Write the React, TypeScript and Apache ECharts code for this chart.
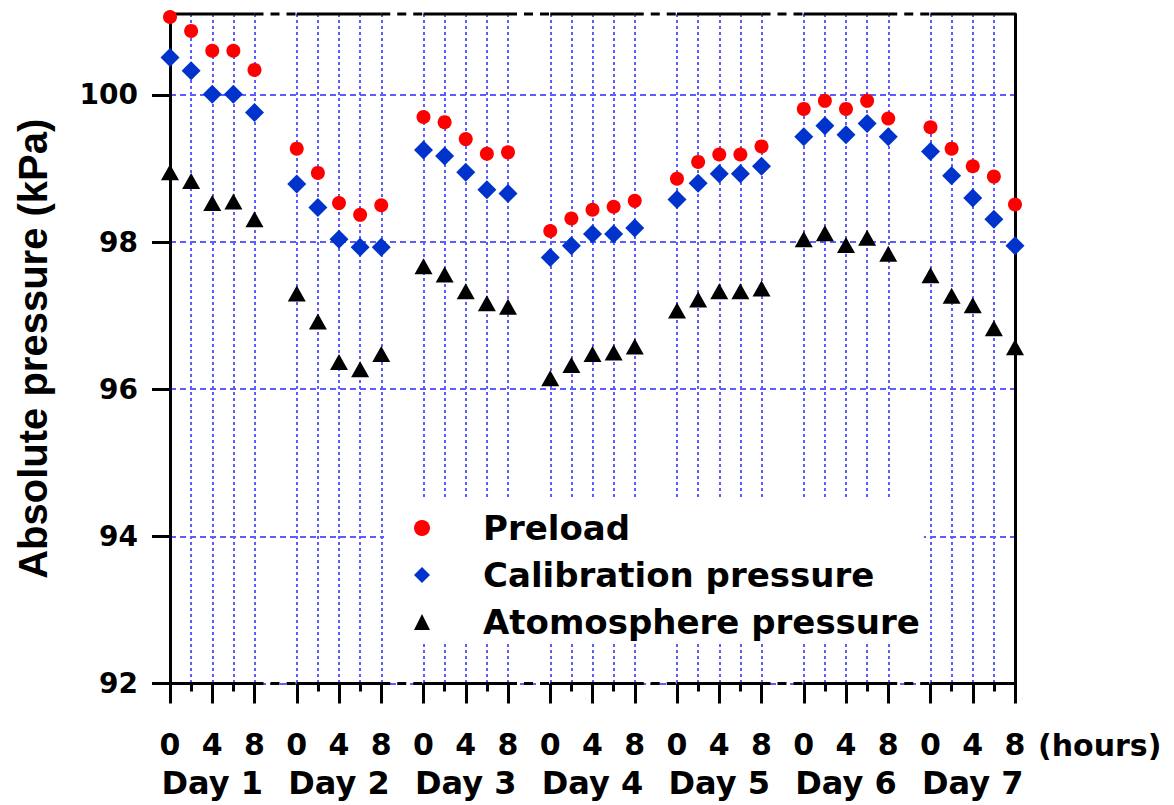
import React, { useEffect, useRef } from "react";
import * as echarts from "echarts";

// Readings are taken every 2 hours over an 8-hour session, on seven days.
const days = ["Day 1", "Day 2", "Day 3", "Day 4", "Day 5", "Day 6", "Day 7"];
const hours = [0, 2, 4, 6, 8];
const labelledHours = [0, 4, 8];
const yTicks = [92, 94, 96, 98, 100];

// kPa, one row per day, one column per reading hour
const preload = [
  [101.06, 100.87, 100.6, 100.6, 100.34],
  [99.27, 98.94, 98.53, 98.37, 98.5],
  [99.7, 99.63, 99.4, 99.2, 99.22],
  [98.15, 98.32, 98.44, 98.48, 98.56],
  [98.86, 99.09, 99.19, 99.19, 99.3],
  [99.81, 99.92, 99.81, 99.92, 99.68],
  [99.56, 99.27, 99.03, 98.89, 98.51],
];
const calibration = [
  [100.51, 100.33, 100.01, 100.01, 99.76],
  [98.79, 98.47, 98.04, 97.93, 97.93],
  [99.25, 99.17, 98.95, 98.71, 98.66],
  [97.79, 97.95, 98.11, 98.11, 98.19],
  [98.58, 98.8, 98.93, 98.93, 99.03],
  [99.43, 99.58, 99.46, 99.61, 99.43],
  [99.23, 98.9, 98.6, 98.31, 97.95],
];
const atmosphere = [
  [98.95, 98.83, 98.53, 98.55, 98.31],
  [97.3, 96.92, 96.37, 96.27, 96.48],
  [97.67, 97.56, 97.33, 97.17, 97.12],
  [96.15, 96.33, 96.48, 96.5, 96.58],
  [97.07, 97.22, 97.33, 97.33, 97.37],
  [98.04, 98.12, 97.96, 98.06, 97.84],
  [97.55, 97.27, 97.14, 96.83, 96.57],
];

const Y_MIN = 92;
const Y_MAX = 101.1;

// Each day takes 5 reading slots plus one empty slot before the next day.
const SLOT = hours.length + 1;
const LAST = hours.length - 1;
const categories: string[] = [];
days.forEach((d, di) => {
  hours.forEach((h) => categories.push(`${d} ${h}h`));
  if (di < days.length - 1) categories.push(`gap ${di + 1}`);
});
const slotOf = (index: number) => index % SLOT;
const isReading = (index: number) => slotOf(index) < hours.length;
const hourAt = (index: number) => (isReading(index) ? hours[slotOf(index)] : null);
const isLabelled = (index: number) => {
  const h = hourAt(index);
  return h !== null && labelledHours.includes(h);
};
const isMinor = (index: number) => {
  const h = hourAt(index);
  return h !== null && !labelledHours.includes(h);
};
const isMidDay = (index: number) => hourAt(index) === 4;

const toPoints = (rows: number[][]) =>
  rows.flatMap((row, di) => row.map((v, hi) => [di * SLOT + hi, v]));

// Frame pieces along a y level: solid across each day, dashed across the gaps.
const daySpans = (y: number) =>
  days.flatMap((_, di) => {
    const s = di * SLOT;
    const pts: any[] = [[s, y], [s + LAST, y]];
    if (di < days.length - 1) pts.push([s + LAST + 1, "-"]);
    return pts;
  });
const gapSpans = (y: number) =>
  days.slice(0, -1).flatMap((_, di) => {
    const s = di * SLOT;
    return [[s + LAST, y], [s + SLOT, y], [s + SLOT + 2, "-"]];
  });

const TEXT_FONT = '"DejaVu Sans", sans-serif';
const TITLE_FONT = '"Liberation Sans", Arial, sans-serif';
const GRID_BLUE = "#5c5cff";

export default function App() {
  const ref = useRef<HTMLDivElement>(null);

  useEffect(() => {
    if (!ref.current) return;
    const chart = echarts.init(ref.current, null, { renderer: "svg" });

    const frameLine = (data: any[], type: any) => ({
      type: "line" as const,
      data,
      z: 1,
      silent: true,
      clip: false,
      symbol: "none",
      showSymbol: false,
      connectNulls: false,
      lineStyle: { color: "#000", width: 3, type },
    });

    const scatterBase = {
      type: "scatter" as const,
      clip: false,
      z: 3,
      silent: true,
    };

    const hourText = {
      fontFamily: TEXT_FONT,
      fontWeight: "bold" as const,
      color: "#000",
    };

    chart.setOption({
      animation: false,
      backgroundColor: "#fff",
      grid: {
        left: 170,
        top: 14,
        width: 845,
        height: 669.5,
        containLabel: false,
        outerBoundsMode: "none",
      },
      legend: {
        orient: "vertical",
        left: 384,
        top: 497,
        data: ["Preload", "Calibration pressure", "Atomosphere pressure"],
        backgroundColor: "#fff",
        padding: [11, 4, 2, 30],
        itemWidth: 16,
        itemHeight: 16,
        itemGap: 7,
        selectedMode: false,
        textStyle: {
          fontFamily: TEXT_FONT,
          fontWeight: "bold",
          fontSize: 34,
          color: "#000",
          lineHeight: 40,
          padding: [0, 0, 0, 48],
        },
      },
      xAxis: [
        {
          type: "category",
          data: categories,
          boundaryGap: false,
          position: "bottom",
          axisLine: { show: false },
          axisTick: {
            show: true,
            inside: false,
            length: 20,
            interval: (i: number) => isLabelled(i),
            lineStyle: { color: "#000", width: 3 },
          },
          axisLabel: {
            show: true,
            margin: 44,
            hideOverlap: false,
            showMinLabel: true,
            showMaxLabel: true,
            interval: (i: number) => isLabelled(i),
            formatter: (_v: string, i: number) => {
              const h = hourAt(i);
              return h === null ? "" : String(h);
            },
            ...hourText,
            fontSize: 30,
            lineHeight: 34,
          },
          splitLine: {
            show: true,
            interval: (i: number) => isReading(i),
            lineStyle: { color: GRID_BLUE, width: 2, type: [3, 3] },
          },
        },
        {
          type: "category",
          data: categories,
          boundaryGap: false,
          position: "bottom",
          axisLine: { show: false },
          axisTick: {
            show: true,
            inside: false,
            length: 8,
            interval: (i: number) => isMinor(i),
            lineStyle: { color: "#000", width: 3 },
          },
          axisLabel: { show: false },
          splitLine: { show: false },
        },
        {
          type: "category",
          data: categories,
          boundaryGap: false,
          position: "bottom",
          axisLine: { show: false },
          axisTick: { show: false },
          axisLabel: {
            show: true,
            margin: 80,
            hideOverlap: false,
            showMinLabel: true,
            showMaxLabel: true,
            interval: (i: number) => isMidDay(i),
            formatter: (_v: string, i: number) => days[Math.floor(i / SLOT)],
            ...hourText,
            fontSize: 32,
            lineHeight: 38,
          },
          splitLine: { show: false },
        },
      ],
      yAxis: [
        {
          type: "value",
          min: Y_MIN,
          max: Y_MAX,
          interval: 2,
          position: "left",
          axisLine: { show: true, lineStyle: { color: "#000", width: 3 } },
          axisTick: {
            show: true,
            inside: false,
            length: 18,
            customValues: yTicks,
            lineStyle: { color: "#000", width: 3 },
          },
          axisLabel: {
            show: true,
            margin: 32,
            customValues: yTicks,
            fontFamily: TEXT_FONT,
            fontWeight: "bold",
            fontSize: 28,
            color: "#000",
          },
          splitLine: {
            show: true,
            lineStyle: { color: GRID_BLUE, width: 2, type: [6, 4] },
          },
          name: "Absolute pressure (kPa)",
          nameLocation: "middle",
          nameRotate: 90,
          nameGap: 117,
          nameTextStyle: {
            fontFamily: TITLE_FONT,
            fontWeight: "bold",
            fontSize: 40,
            color: "#000",
          },
        },
        {
          type: "value",
          min: Y_MIN,
          max: Y_MAX,
          position: "right",
          axisLine: { show: true, lineStyle: { color: "#000", width: 3 } },
          axisTick: { show: false },
          axisLabel: { show: false },
          splitLine: { show: false },
        },
      ],
      graphic: [
        {
          type: "text",
          x: 1038,
          y: 745,
          silent: true,
          style: {
            text: "(hours)",
            fontFamily: TEXT_FONT,
            fontWeight: "bold",
            fontSize: 30,
            fill: "#000",
            align: "left",
            verticalAlign: "middle",
          },
        },
      ],
      series: [
        frameLine(daySpans(Y_MIN), "solid"),
        frameLine(gapSpans(Y_MIN), [9, 7]),
        frameLine(daySpans(Y_MAX), "solid"),
        frameLine(gapSpans(Y_MAX), [9, 7]),
        {
          ...scatterBase,
          name: "Preload",
          symbol: "circle",
          symbolSize: 14,
          itemStyle: { color: "#ff0000", opacity: 1 },
          data: toPoints(preload),
        },
        {
          ...scatterBase,
          name: "Calibration pressure",
          symbol: "diamond",
          symbolSize: 19,
          itemStyle: { color: "#0033cc", opacity: 1 },
          data: toPoints(calibration),
        },
        {
          ...scatterBase,
          name: "Atomosphere pressure",
          symbol: "triangle",
          symbolSize: [18, 16],
          itemStyle: { color: "#000", opacity: 1 },
          data: toPoints(atmosphere),
        },
      ],
    });

    return () => chart.dispose();
  }, []);

  return (
    <div
      ref={ref}
      style={{ position: "fixed", left: 0, top: 0, width: 1174, height: 805, background: "#fff" }}
    />
  );
}
